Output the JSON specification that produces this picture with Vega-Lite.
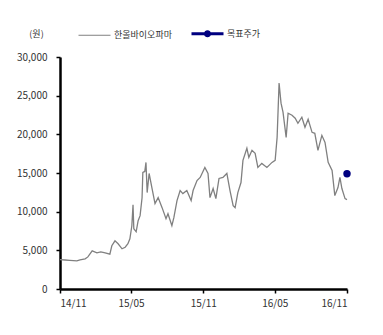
{
  "$schema": "https://vega.github.io/schema/vega-lite/v6.json",
  "autosize": "none",
  "width": 287,
  "height": 232,
  "padding": {"left": 60, "top": 57, "right": 36, "bottom": 46},
  "background": "white",
  "config": {
    "view": {"stroke": null},
    "font": "Noto Sans CJK KR"
  },
  "data": {"values": [
    {"date": "2014-11-01", "price": 3800, "series": "한올바이오파마"},
    {"date": "2014-11-14", "price": 3750, "series": "한올바이오파마"},
    {"date": "2014-11-26", "price": 3700, "series": "한올바이오파마"},
    {"date": "2014-12-14", "price": 3640, "series": "한올바이오파마"},
    {"date": "2014-12-22", "price": 3770, "series": "한올바이오파마"},
    {"date": "2015-01-04", "price": 3900, "series": "한올바이오파마"},
    {"date": "2015-01-11", "price": 4150, "series": "한올바이오파마"},
    {"date": "2015-01-22", "price": 4940, "series": "한올바이오파마"},
    {"date": "2015-02-03", "price": 4680, "series": "한올바이오파마"},
    {"date": "2015-02-13", "price": 4800, "series": "한올바이오파마"},
    {"date": "2015-02-24", "price": 4680, "series": "한올바이오파마"},
    {"date": "2015-03-08", "price": 4500, "series": "한올바이오파마"},
    {"date": "2015-03-13", "price": 5590, "series": "한올바이오파마"},
    {"date": "2015-03-21", "price": 6230, "series": "한올바이오파마"},
    {"date": "2015-03-29", "price": 5850, "series": "한올바이오파마"},
    {"date": "2015-04-08", "price": 5200, "series": "한올바이오파마"},
    {"date": "2015-04-16", "price": 5400, "series": "한올바이오파마"},
    {"date": "2015-04-23", "price": 5850, "series": "한올바이오파마"},
    {"date": "2015-04-28", "price": 6500, "series": "한올바이오파마"},
    {"date": "2015-05-03", "price": 8180, "series": "한올바이오파마"},
    {"date": "2015-05-06", "price": 10900, "series": "한올바이오파마"},
    {"date": "2015-05-08", "price": 7800, "series": "한올바이오파마"},
    {"date": "2015-05-14", "price": 7400, "series": "한올바이오파마"},
    {"date": "2015-05-19", "price": 8830, "series": "한올바이오파마"},
    {"date": "2015-05-24", "price": 9480, "series": "한올바이오파마"},
    {"date": "2015-05-29", "price": 11800, "series": "한올바이오파마"},
    {"date": "2015-05-31", "price": 15070, "series": "한올바이오파마"},
    {"date": "2015-06-05", "price": 15200, "series": "한올바이오파마"},
    {"date": "2015-06-08", "price": 16370, "series": "한올바이오파마"},
    {"date": "2015-06-11", "price": 12470, "series": "한올바이오파마"},
    {"date": "2015-06-16", "price": 14940, "series": "한올바이오파마"},
    {"date": "2015-06-23", "price": 13120, "series": "한올바이오파마"},
    {"date": "2015-07-01", "price": 11040, "series": "한올바이오파마"},
    {"date": "2015-07-09", "price": 11820, "series": "한올바이오파마"},
    {"date": "2015-07-19", "price": 10520, "series": "한올바이오파마"},
    {"date": "2015-07-29", "price": 9090, "series": "한올바이오파마"},
    {"date": "2015-08-03", "price": 9740, "series": "한올바이오파마"},
    {"date": "2015-08-13", "price": 8180, "series": "한올바이오파마"},
    {"date": "2015-08-18", "price": 9220, "series": "한올바이오파마"},
    {"date": "2015-08-26", "price": 11430, "series": "한올바이오파마"},
    {"date": "2015-09-03", "price": 12730, "series": "한올바이오파마"},
    {"date": "2015-09-10", "price": 12340, "series": "한올바이오파마"},
    {"date": "2015-09-20", "price": 12730, "series": "한올바이오파마"},
    {"date": "2015-10-01", "price": 11430, "series": "한올바이오파마"},
    {"date": "2015-10-06", "price": 12730, "series": "한올바이오파마"},
    {"date": "2015-10-16", "price": 14030, "series": "한올바이오파마"},
    {"date": "2015-10-24", "price": 14420, "series": "한올바이오파마"},
    {"date": "2015-11-05", "price": 15720, "series": "한올바이오파마"},
    {"date": "2015-11-13", "price": 14940, "series": "한올바이오파마"},
    {"date": "2015-11-18", "price": 11820, "series": "한올바이오파마"},
    {"date": "2015-11-26", "price": 12990, "series": "한올바이오파마"},
    {"date": "2015-12-03", "price": 11690, "series": "한올바이오파마"},
    {"date": "2015-12-11", "price": 14290, "series": "한올바이오파마"},
    {"date": "2015-12-21", "price": 14420, "series": "한올바이오파마"},
    {"date": "2015-12-31", "price": 14940, "series": "한올바이오파마"},
    {"date": "2016-01-08", "price": 12730, "series": "한올바이오파마"},
    {"date": "2016-01-16", "price": 10780, "series": "한올바이오파마"},
    {"date": "2016-01-21", "price": 10520, "series": "한올바이오파마"},
    {"date": "2016-01-28", "price": 12470, "series": "한올바이오파마"},
    {"date": "2016-02-05", "price": 13770, "series": "한올바이오파마"},
    {"date": "2016-02-10", "price": 16630, "series": "한올바이오파마"},
    {"date": "2016-02-20", "price": 18190, "series": "한올바이오파마"},
    {"date": "2016-02-25", "price": 17020, "series": "한올바이오파마"},
    {"date": "2016-03-04", "price": 17930, "series": "한올바이오파마"},
    {"date": "2016-03-12", "price": 17540, "series": "한올바이오파마"},
    {"date": "2016-03-19", "price": 15720, "series": "한올바이오파마"},
    {"date": "2016-03-29", "price": 16240, "series": "한올바이오파마"},
    {"date": "2016-04-11", "price": 15720, "series": "한올바이오파마"},
    {"date": "2016-04-24", "price": 16370, "series": "한올바이오파마"},
    {"date": "2016-05-02", "price": 16630, "series": "한올바이오파마"},
    {"date": "2016-05-07", "price": 19610, "series": "한올바이오파마"},
    {"date": "2016-05-12", "price": 26630, "series": "한올바이오파마"},
    {"date": "2016-05-17", "price": 24030, "series": "한올바이오파마"},
    {"date": "2016-05-22", "price": 22860, "series": "한올바이오파마"},
    {"date": "2016-05-30", "price": 19610, "series": "한올바이오파마"},
    {"date": "2016-06-04", "price": 22730, "series": "한올바이오파마"},
    {"date": "2016-06-14", "price": 22470, "series": "한올바이오파마"},
    {"date": "2016-06-22", "price": 22080, "series": "한올바이오파마"},
    {"date": "2016-06-29", "price": 21430, "series": "한올바이오파마"},
    {"date": "2016-07-09", "price": 22210, "series": "한올바이오파마"},
    {"date": "2016-07-17", "price": 20910, "series": "한올바이오파마"},
    {"date": "2016-07-25", "price": 21950, "series": "한올바이오파마"},
    {"date": "2016-08-04", "price": 20260, "series": "한올바이오파마"},
    {"date": "2016-08-11", "price": 20130, "series": "한올바이오파마"},
    {"date": "2016-08-19", "price": 17930, "series": "한올바이오파마"},
    {"date": "2016-08-29", "price": 19870, "series": "한올바이오파마"},
    {"date": "2016-09-06", "price": 18960, "series": "한올바이오파마"},
    {"date": "2016-09-14", "price": 16370, "series": "한올바이오파마"},
    {"date": "2016-09-24", "price": 15330, "series": "한올바이오파마"},
    {"date": "2016-10-01", "price": 12080, "series": "한올바이오파마"},
    {"date": "2016-10-09", "price": 13120, "series": "한올바이오파마"},
    {"date": "2016-10-14", "price": 14420, "series": "한올바이오파마"},
    {"date": "2016-10-19", "price": 12990, "series": "한올바이오파마"},
    {"date": "2016-10-27", "price": 11690, "series": "한올바이오파마"},
    {"date": "2016-11-01", "price": 11560, "series": "한올바이오파마"},
    {"date": "2016-11-01", "price": 14900, "series": "목표주가"}
  ]},
  "encoding": {
    "x": {
      "field": "date", "type": "temporal",
      "scale": {"type": "utc", "domain": ["2014-11-01", "2016-11-01"]},
      "axis": {
        "title": null,
        "values": ["2014-11-01", "2015-05-01", "2015-11-01", "2016-05-01", "2016-11-01"],
        "labelExpr": "utcFormat(datum.value, '%y/%m')",
        "grid": false,
        "domainColor": "#000000", "domainWidth": 2.5,
        "tickColor": "#000000", "tickWidth": 1.5, "tickSize": 4,
        "labelPadding": 5, "labelFontSize": 10, "labelColor": "#333333",
        "labelFont": "Noto Sans CJK KR", "labelAngle": 0
      }
    },
    "y": {
      "field": "price", "type": "quantitative",
      "scale": {"domain": [0, 30000], "nice": false},
      "axis": {
        "title": "(원)", "titleAngle": 0, "titleX": -24, "titleY": -24,
        "titleAlign": "center", "titleBaseline": "middle",
        "titleFontSize": 9, "titleFontWeight": "normal", "titleColor": "#333333",
        "titleFont": "Noto Sans CJK KR",
        "values": [0, 5000, 10000, 15000, 20000, 25000, 30000],
        "labelExpr": "format(datum.value, ',.0f')",
        "grid": false,
        "domainColor": "#000000", "domainWidth": 2.5,
        "tickColor": "#000000", "tickWidth": 1.5, "tickSize": 4,
        "labelPadding": 9, "labelFontSize": 10, "labelColor": "#333333",
        "labelFont": "Noto Sans CJK KR"
      }
    },
    "color": {
      "field": "series", "type": "nominal",
      "scale": {"domain": ["한올바이오파마", "목표주가"], "range": ["#808080", "#000080"]},
      "legend": {
        "title": null,
        "orient": "none",
        "direction": "horizontal",
        "legendX": 18,
        "legendY": -40,
        "padding": 0,
        "symbolType": "stroke",
        "symbolSize": 1024,
        "labelOffset": 3,
        "columnPadding": 13,
        "labelFontSize": 9,
        "labelColor": "#333333",
        "labelFont": "Noto Sans CJK KR",
        "encode": {
          "symbols": {
            "update": {
              "size": {"value": 1024},
              "shape": {"signal": "(datum.value === '목표주가' ? 'M-1,0H1M0.13,0A0.13,0.13 0 1,1 -0.13,0A0.13,0.13 0 1,1 0.13,0' : 'stroke')"},
              "stroke": {"signal": "(datum.value === '목표주가' ? '#000080' : '#808080')"},
              "fill": {"signal": "(datum.value === '목표주가' ? '#000080' : 'transparent')"},
              "strokeWidth": {"signal": "(datum.value === '목표주가' ? 3 : 1)"},
              "opacity": {"value": 1}
            }
          }
        }
      }
    }
  },
  "layer": [
    {
      "transform": [{"filter": "datum.series === '한올바이오파마'"}],
      "mark": {"type": "line", "strokeWidth": 1.3}
    },
    {
      "transform": [{"filter": "datum.series === '목표주가'"}],
      "mark": {"type": "point", "filled": true, "size": 55, "opacity": 1}
    }
  ]
}
